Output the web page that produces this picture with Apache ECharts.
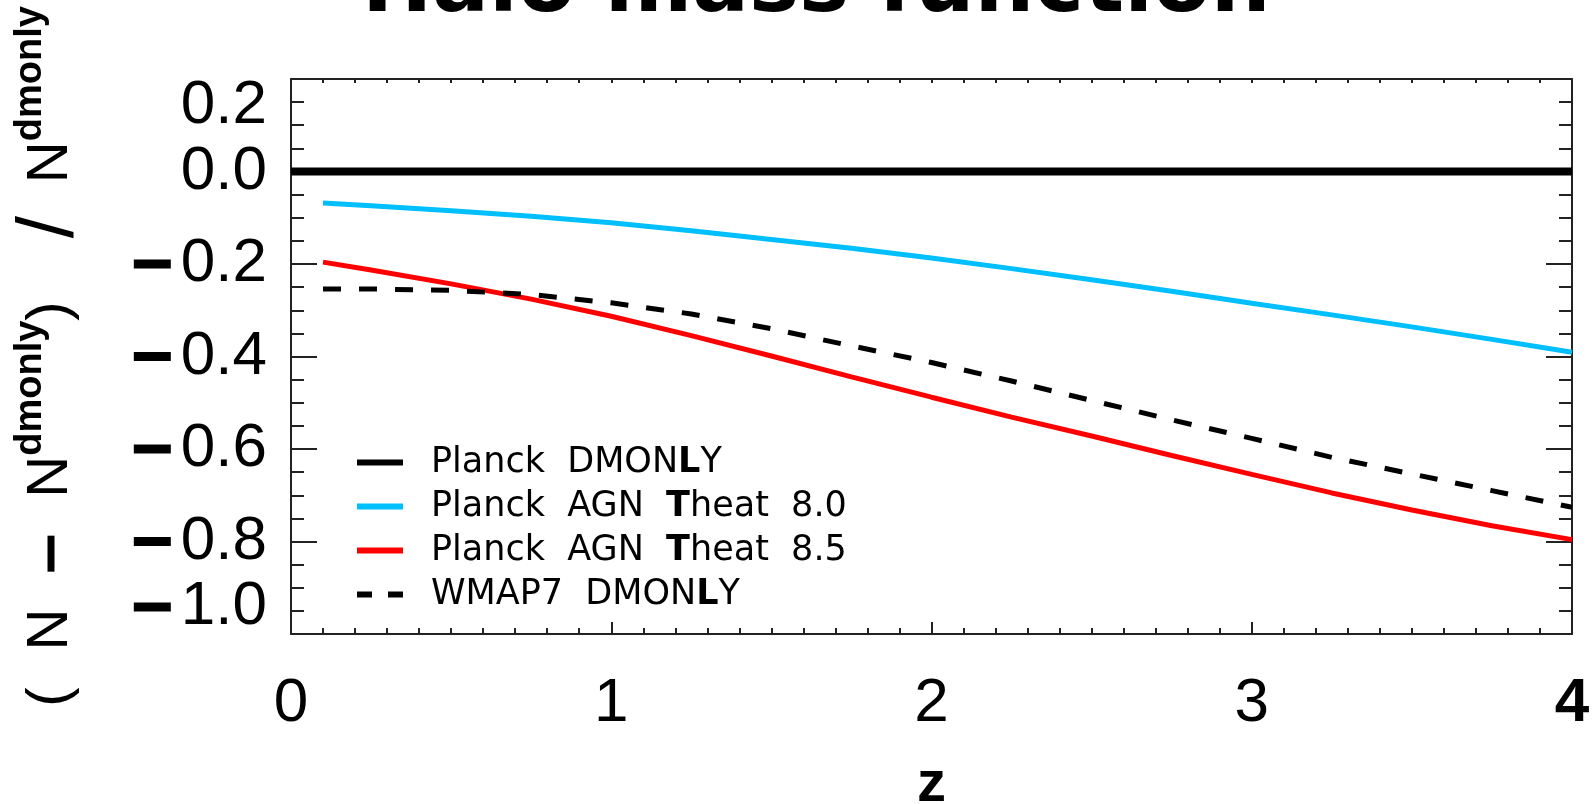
<!DOCTYPE html>
<html>
<head>
<meta charset="utf-8">
<script src="https://cdn.jsdelivr.net/npm/echarts@6/dist/echarts.min.js"></script>
<style>
  html, body { margin: 0; padding: 0; background: #fff; }
  #chart { width: 1596px; height: 804px; }
</style>
</head>
<body>
<div id="chart"></div>
<script>
// Redshift samples for the simulation curves
const zGrid = [0.1, 0.25, 0.5, 0.75, 1.0, 1.25, 1.5, 1.75, 2.0, 2.25, 2.5, 2.75, 3.0, 3.25, 3.5, 3.75, 4.0];
// Fractional difference of halo counts relative to the DM-only run
const agn80 = [-0.068, -0.074, -0.085, -0.097, -0.111, -0.128, -0.147, -0.166, -0.187, -0.210, -0.234, -0.259, -0.285, -0.310, -0.336, -0.363, -0.391];
const agn85 = [-0.196, -0.213, -0.243, -0.276, -0.313, -0.355, -0.399, -0.444, -0.488, -0.531, -0.572, -0.614, -0.655, -0.695, -0.732, -0.766, -0.796];
const wmap7 = [-0.254, -0.254, -0.257, -0.266, -0.284, -0.308, -0.340, -0.377, -0.413, -0.453, -0.495, -0.537, -0.577, -0.618, -0.654, -0.690, -0.726];
// Reference run (zero line)
const zRef = [0, 4];
const planckRef = [0, 0];

const seriesNames = ['Planck DMONLY', 'Planck AGN Theat 8.0', 'Planck AGN Theat 8.5', 'WMAP7 DMONLY'];

// Tick labels
const xTickValues = [0, 1, 2, 3, 4];
const xTickLabels = ['0', '1', '2', '3', '4'];
const yTickValues = [-1.0, -0.8, -0.6, -0.4, -0.2, 0.0, 0.2];
const yTickLabels = ['−1.0', '−0.8', '−0.6', '−0.4', '−0.2', '0.0', '0.2'];

const pairs = (xs, ys) => xs.map((x, i) => [x, ys[i]]);

const FONT = 'Liberation Sans';
const AX = '#222';

function yLabel(v) {
  const i = yTickValues.findIndex(t => Math.abs(t - v) < 1e-6);
  if (i < 0) return '';
  const s = yTickLabels[i];
  let body = s.startsWith('−') ? '{m|−}{n|' + s.slice(1) + '}' : '{n|' + s + '}';
  // end labels sit inside the frame
  if (i === yTickValues.length - 1) body = '{e| }\n' + body;
  if (i === 0) body = body + '\n{e| }';
  return body;
}

function xLabel(v) {
  const i = xTickValues.findIndex(t => Math.abs(t - v) < 1e-6);
  if (i < 0) return '';
  return i === xTickValues.length - 1 ? '{b|' + xTickLabels[i] + '}' : '{r|' + xTickLabels[i] + '}';
}

// Legend text: wide word spacing, some capitals drawn heavier
const legendMarkup = {
  'Planck DMONLY': '{g| }{t|Planck  DMON}{b|L}{t|Y}',
  'Planck AGN Theat 8.0': '{g| }{t|Planck  AGN  }{b|T}{t|heat  8.0}',
  'Planck AGN Theat 8.5': '{g| }{t|Planck  AGN  }{b|T}{t|heat  8.5}',
  'WMAP7 DMONLY': '{g| }{t|WMAP7  DMON}{b|L}{t|Y}'
};

const yName = '{p|(}{g1| }{N|N}{g2| }{m|−}{g3| }{N|N}{s|dmonly}{p|)}{g5| }{sl|/}{g6| }{N|N}{s|dmonly}';

const tickStyle = { color: AX, width: 2 };

const chart = echarts.init(document.getElementById('chart'), null, { renderer: 'canvas' });

chart.setOption({
  animation: false,
  backgroundColor: '#fff',
  title: {
    text: 'Halo mass function',
    left: 362,
    top: -53,
    padding: 0,
    textStyle: { fontFamily: 'DejaVu Sans', fontWeight: 'bold', fontSize: 84, color: '#000' }
  },
  grid: { left: 291, right: 24, top: 79, bottom: 170, containLabel: false, outerBoundsMode: 'none' },
  legend: {
    orient: 'vertical',
    left: 352,
    top: 440,
    itemWidth: 46,
    itemHeight: 6,
    itemGap: 9,
    icon: 'rect',
    selectedMode: false,
    formatter: name => legendMarkup[name],
    textStyle: {
      color: '#000',
      fontFamily: 'DejaVu Sans',
      fontSize: 35,
      rich: {
        g: { width: 23 },
        t: { fontFamily: 'DejaVu Sans', fontSize: 35, color: '#000' },
        b: { fontFamily: 'DejaVu Sans', fontSize: 35, fontWeight: 'bold', color: '#000' }
      }
    },
    data: [
      { name: seriesNames[0] },
      { name: seriesNames[1] },
      { name: seriesNames[2] },
      { name: seriesNames[3], icon: 'path://M0,0h15v6h-15z M31,0h15v6h-15z' }
    ]
  },
  xAxis: [
    {
      type: 'value', position: 'bottom', min: 0, max: 4, interval: 1,
      axisLine: { show: true, onZero: false, lineStyle: { color: AX, width: 2 } },
      axisTick: { show: true, inside: true, length: 12, lineStyle: tickStyle },
      minorTick: { show: true, splitNumber: 10, length: 6, lineStyle: tickStyle },
      splitLine: { show: false },
      minorSplitLine: { show: false },
      axisLabel: {
        margin: 39,
        formatter: xLabel,
        rich: {
          r: { fontFamily: FONT, fontSize: 62, color: '#000' },
          b: { fontFamily: FONT, fontSize: 62, fontWeight: 'bold', color: '#000' }
        }
      },
      name: 'z',
      nameLocation: 'middle',
      nameGap: 122,
      nameTextStyle: { fontFamily: FONT, fontSize: 58, fontWeight: 'bold', color: '#000' }
    },
    {
      type: 'value', position: 'top', min: 0, max: 4, interval: 1,
      axisLine: { show: true, onZero: false, lineStyle: { color: AX, width: 2 } },
      axisTick: { show: true, inside: true, length: 4, lineStyle: tickStyle },
      minorTick: { show: true, splitNumber: 10, length: 4, lineStyle: tickStyle },
      splitLine: { show: false },
      axisLabel: { show: false }
    }
  ],
  yAxis: [
    {
      type: 'value', position: 'left', min: -1.0, max: 0.2, interval: 0.2,
      axisLine: { show: true, onZero: false, lineStyle: { color: AX, width: 2 } },
      axisTick: { show: true, inside: true, length: 26, lineStyle: tickStyle },
      minorTick: { show: true, splitNumber: 4, length: 13, lineStyle: tickStyle },
      splitLine: { show: false },
      axisLabel: {
        margin: 24,
        formatter: yLabel,
        rich: {
          n: { fontFamily: FONT, fontSize: 62, color: '#000', padding: [0, 0, 0, 10] },
          m: { width: 37, height: 9, lineHeight: 9, fontSize: 8, color: '#000', backgroundColor: '#000' },
          e: { fontSize: 10, lineHeight: 54 }
        }
      },
      name: yName,
      nameLocation: 'middle',
      nameRotate: 90,
      nameGap: 201,
      nameTextStyle: {
        fontFamily: FONT, fontSize: 58, color: '#000',
        rich: {
          p: { fontFamily: FONT, fontSize: 58, color: '#000' },
          N: { fontFamily: FONT, fontSize: 58, lineHeight: 78, color: '#000' },
          s: { fontFamily: FONT, fontSize: 38, lineHeight: 38, fontWeight: 'bold', color: '#000', verticalAlign: 'top' },
          sl: { fontFamily: FONT, fontSize: 80, lineHeight: 78, color: '#000' },
          m: { width: 36, height: 7, lineHeight: 7, fontSize: 6, color: '#000', backgroundColor: '#000' },
          g1: { width: 37 },
          g2: { width: 37 },
          g3: { width: 38 },
          g5: { width: 63 },
          g6: { width: 33 }
        }
      }
    },
    {
      type: 'value', position: 'right', min: -1.0, max: 0.2, interval: 0.2,
      axisLine: { show: true, onZero: false, lineStyle: { color: AX, width: 2 } },
      axisTick: { show: true, inside: true, length: 26, lineStyle: tickStyle },
      minorTick: { show: true, splitNumber: 4, length: 13, lineStyle: tickStyle },
      splitLine: { show: false },
      axisLabel: { show: false }
    }
  ],
  series: [
    {
      name: seriesNames[0], type: 'line', data: pairs(zRef, planckRef),
      symbol: 'none', color: '#000', lineStyle: { color: '#000', width: 8 }, silent: true
    },
    {
      name: seriesNames[1], type: 'line', data: pairs(zGrid, agn80),
      symbol: 'none', color: '#00bfff',
      lineStyle: { color: '#00bfff', width: 5 }, silent: true
    },
    {
      name: seriesNames[2], type: 'line', data: pairs(zGrid, agn85),
      symbol: 'none', color: '#ff0000',
      lineStyle: { color: '#ff0000', width: 5 }, silent: true
    },
    {
      name: seriesNames[3], type: 'line', data: pairs(zGrid, wmap7),
      symbol: 'none', color: '#000',
      lineStyle: { color: '#000', width: 5, type: [18, 18] }, silent: true
    }
  ]
});
</script>
</body>
</html>
